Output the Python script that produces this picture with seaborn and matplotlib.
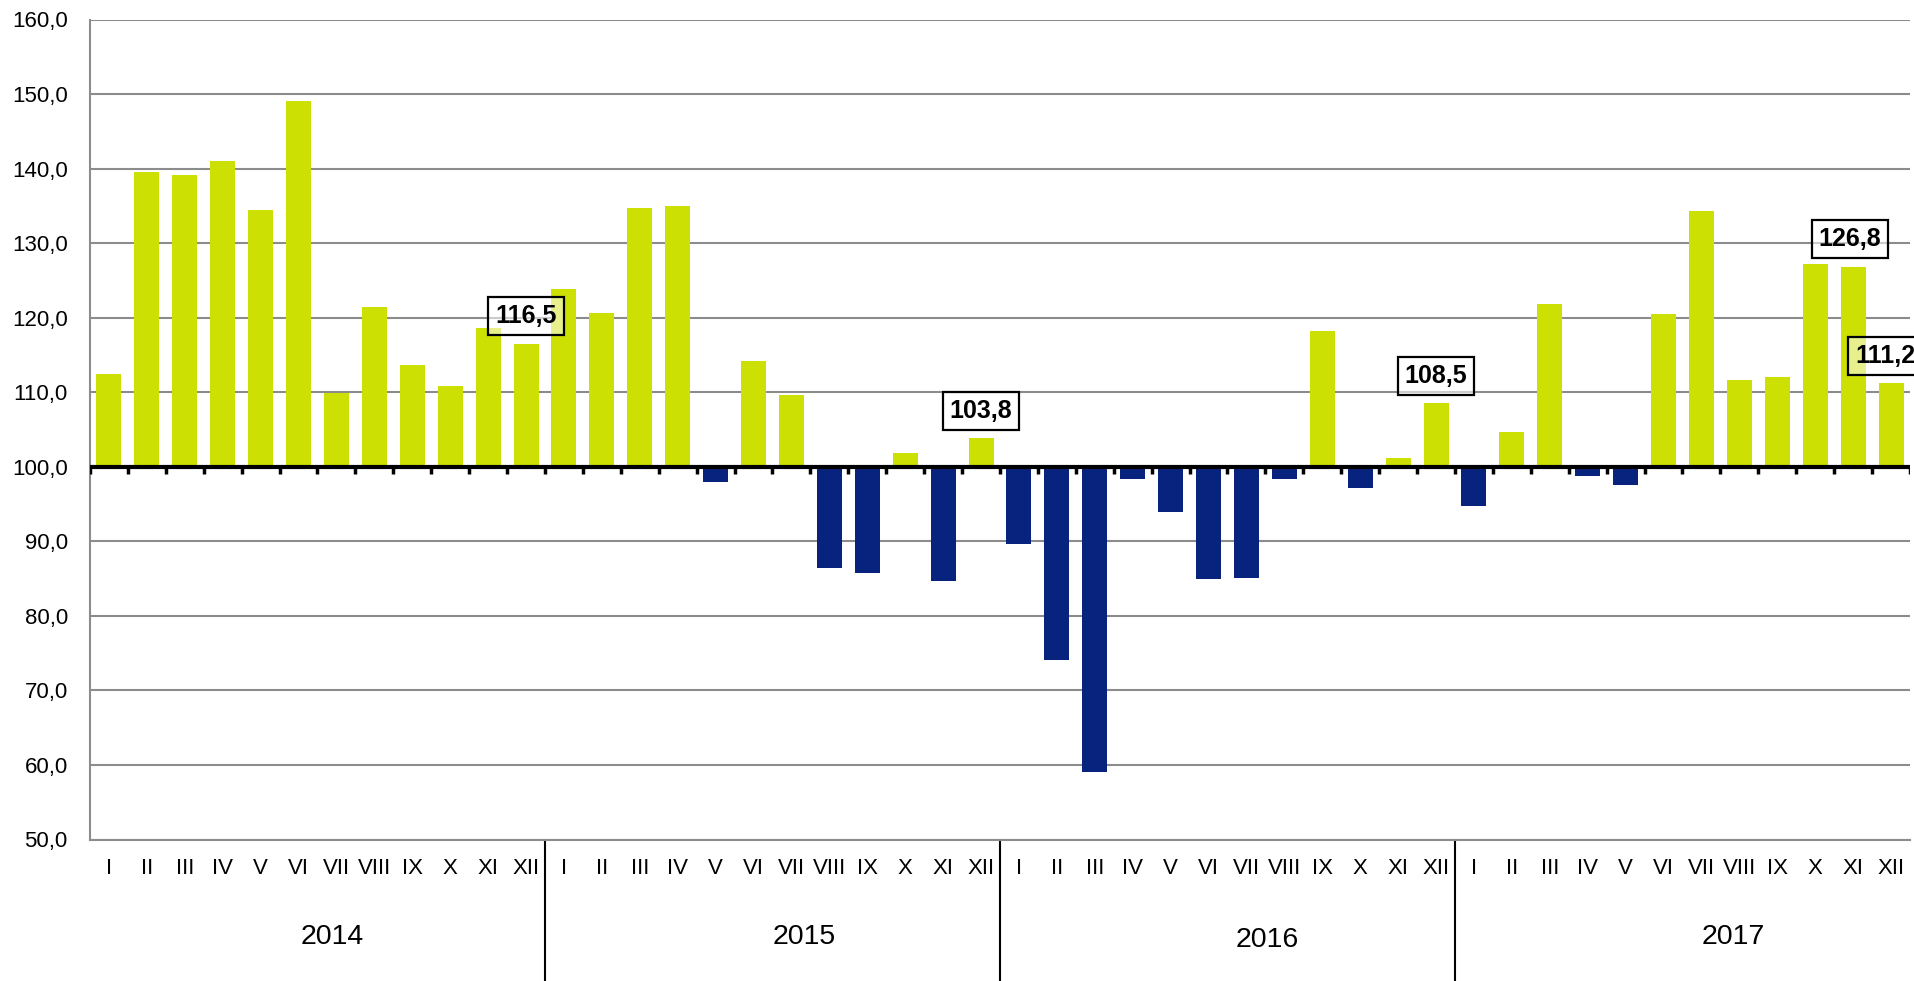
import numpy as np
import pandas as pd
import matplotlib
matplotlib.use("Agg")
import matplotlib.pyplot as plt
import matplotlib.transforms as mtransforms
import seaborn as sns

# Monthly index values (previous year = 100)
years = ["2014", "2015", "2016", "2017"]
months = ["I", "II", "III", "IV", "V", "VI", "VII", "VIII", "IX", "X", "XI", "XII"]
values_2014 = [112.5, 139.5, 139.2, 141.0, 134.4, 149.1, 109.9, 121.4, 113.7, 110.9, 118.6, 116.5]
values_2015 = [123.9, 120.6, 134.7, 135.0, 98.0, 114.2, 109.6, 86.4, 85.7, 101.9, 84.7, 103.8]
values_2016 = [89.7, 74.1, 59.1, 98.3, 93.9, 85.0, 85.1, 98.3, 118.2, 97.2, 101.2, 108.5]
values_2017 = [94.7, 104.7, 121.9, 98.7, 97.5, 120.5, 134.3, 111.6, 112.0, 127.2, 126.8, 111.2]

# which bars carry a boxed value label (index in the 48-month series)
label_idx = [11, 23, 35, 46, 47]

BASE = 100.0
GREEN = "#CCE003"
BLUE = "#08237E"

sns.set_theme(style="white")
plt.rcParams['font.family'] = ['Liberation Sans', 'DejaVu Sans']
plt.rcParams['text.color'] = 'black'
plt.rcParams['xtick.color'] = 'black'
plt.rcParams['ytick.color'] = 'black'
plt.rcParams['xtick.labelcolor'] = 'black'
plt.rcParams['ytick.labelcolor'] = 'black'


def build_frame():
    vals = values_2014 + values_2015 + values_2016 + values_2017
    df = pd.DataFrame({
        'pos': np.arange(len(vals)),
        'value': vals,
    })
    df['delta'] = df['value'] - BASE
    df['sign'] = np.where(df['delta'] >= 0, 'up', 'down')
    return df


def fmt(v):
    return f"{v:.1f}".replace('.', ',')


def main():
    df = build_frame()
    n = len(df)

    fig = plt.figure(figsize=(19.15, 9.81), dpi=100)
    ax = fig.add_axes([90 / 1915, 1 - 839.5 / 981, 1820 / 1915, 820 / 981])

    sns.barplot(data=df, x='pos', y='delta', hue='sign',
                palette={'up': GREEN, 'down': BLUE}, dodge=False,
                saturation=1, width=0.66, errorbar=None, legend=False,
                bottom=BASE, linewidth=0, zorder=2, ax=ax)

    ax.set_xlim(-0.5, n - 0.5)
    ax.set_ylim(50, 160)
    yt = np.arange(50, 161, 10)
    ax.set_yticks(yt)
    ax.set_yticklabels([fmt(v) for v in yt], fontsize=16)
    ax.tick_params(axis='y', length=0, pad=16)
    ax.yaxis.grid(True, color='#8c8c8c', lw=1.5, zorder=0)
    ax.xaxis.grid(False)
    ax.set_axisbelow(True)

    # month labels
    ax.set_xticks(df['pos'])
    ax.set_xticklabels(months * len(years), fontsize=16)
    ax.tick_params(axis='x', length=0, pad=13)
    ax.set_xlabel('')
    ax.set_ylabel('')

    for s in ['top', 'right']:
        ax.spines[s].set_visible(False)
    for s in ['left', 'bottom']:
        ax.spines[s].set_color('#8c8c8c')
        ax.spines[s].set_linewidth(1.5)

    # category axis crossing at 100 with ticks between months
    ax.axhline(BASE, color='black', lw=3, zorder=4)
    ax.vlines(np.arange(n + 1) - 0.5, BASE - 1.0, BASE, color='black', lw=2.5, zorder=4)

    # year groups: separators and labels below the axis
    trans = mtransforms.blended_transform_factory(ax.transData, ax.transAxes)
    for k in range(1, len(years)):
        ax.plot([12 * k - 0.5] * 2, [0, -0.2], color='black', lw=1.5,
                transform=trans, clip_on=False)
    year_shift = [0.4, 0.85, 1.05, 1.35]
    year_y = [-0.1185, -0.1185, -0.123, -0.1185]
    for k, yr in enumerate(years):
        ax.text(12 * k + 5.5 + year_shift[k], year_y[k], yr, transform=trans,
                ha='center', va='center', fontsize=20.5, color='black')

    # boxed value labels
    label_dx = [0, 0, 0, -0.08, -0.15]
    for i, dx in zip(label_idx, label_dx):
        v = df['value'][i]
        ax.text(i + dx, v + 3.7, fmt(v), ha='center', va='center',
                fontsize=18, fontweight='bold', zorder=6, color='black',
                bbox=dict(boxstyle='square,pad=0.28', fc=(1, 1, 1, 0.55),
                          ec='black', lw=1.6))

    fig.savefig('out.png', dpi=100)


if __name__ == "__main__":
    main()
